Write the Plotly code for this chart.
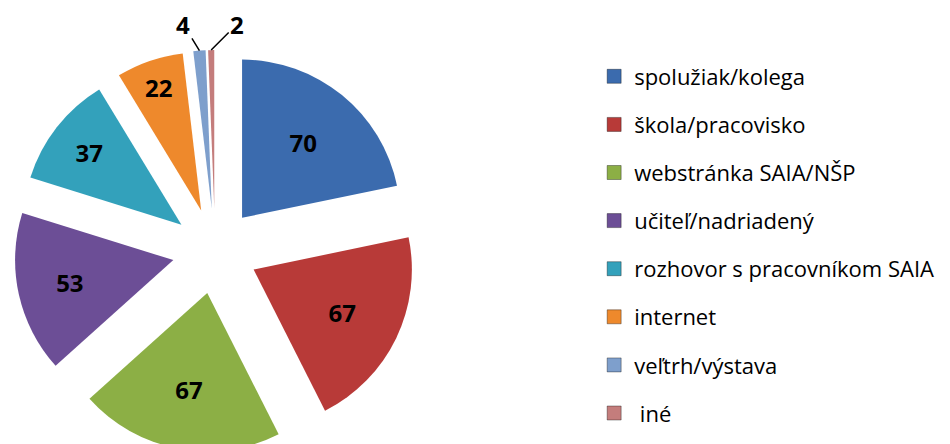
import math
import plotly.graph_objects as go

categories = ["spolužiak/kolega", "škola/pracovisko", "webstránka SAIA/NŠP",
              "učiteľ/nadriadený", "rozhovor s pracovníkom SAIA", "internet",
              "veľtrh/výstava", " iné"]
values = [70, 67, 67, 53, 37, 22, 4, 2]
colors = ["#3B6BAE", "#B83A38", "#8CAF45", "#6C4E96", "#33A1BB", "#EE892C",
          "#7E9FCC", "#C47D7C"]
# small slices are labelled outside with leader lines (annotations)
inside_labelled = [True] * 6 + [False] * 2
label_offsets = {6: (-16, -26), 7: (26, -26)}  # text offset from slice tip, px

W, H = 950, 444
dom_x = [0, 0.436]
dom_y = [0, 0.9054]
pull = 0.27

fig = go.Figure()
fig.add_trace(go.Pie(
    labels=categories, values=values, sort=False, direction="clockwise",
    rotation=0, pull=pull, showlegend=False,
    marker=dict(colors=colors, line=dict(width=0)),
    texttemplate=["%{value}" if f else "" for f in inside_labelled],
    textposition="inside",
    insidetextorientation="horizontal",
    textfont=dict(family="Open Sans", size=24, color="black", weight="bold"),
    domain=dict(x=dom_x, y=dom_y),
    hoverinfo="label+value",
))

# leader-line labels for the two small slices, positioned from the data
total = sum(values)
cx = W * (dom_x[0] + dom_x[1]) / 2
cy = H * (dom_y[0] + dom_y[1]) / 2
R = min(W * (dom_x[1] - dom_x[0]), H * (dom_y[1] - dom_y[0])) / 2
cum = 0
for i, v in enumerate(values):
    mid = (cum + v / 2) / total * 2 * math.pi
    cum += v
    if inside_labelled[i]:
        continue
    tx = cx + R * math.sin(mid)
    ty = cy + R * math.cos(mid)
    ax, ay = label_offsets[i]
    fig.add_annotation(
        x=tx / W, y=ty / H, xref="paper", yref="paper",
        text=f"<b>{v}</b>", showarrow=True, arrowhead=0, arrowwidth=1.5,
        arrowcolor="black", ax=ax, ay=ay, standoff=0,
        font=dict(family="Open Sans", size=24, color="black"),
    )

for i, (cat, col) in enumerate(zip(categories, colors)):
    fig.add_trace(go.Scatter(
        x=[None], y=[None], mode="markers", name=cat,
        legendgroup=f"g{i}",
        marker=dict(symbol="square", size=14, color=col,
                    line=dict(color="rgba(0,0,0,0.35)", width=1)),
    ))

fig.update_layout(
    width=W, height=H,
    margin=dict(l=0, r=0, t=0, b=0, autoexpand=False),
    paper_bgcolor="white", plot_bgcolor="white",
    xaxis=dict(visible=False), yaxis=dict(visible=False),
    legend=dict(x=0.617, y=0.893, xanchor="left", yanchor="top",
                traceorder="grouped", tracegroupgap=16.5,
                font=dict(family="Open Sans", size=22, color="black"),
                bgcolor="rgba(0,0,0,0)"),
)

fig.write_html("out.html")
